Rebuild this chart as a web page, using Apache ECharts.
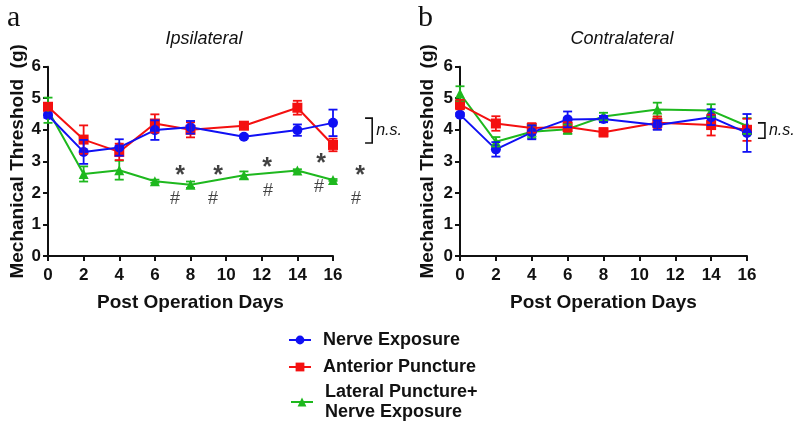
<!DOCTYPE html>
<html><head><meta charset="utf-8">
<script src="https://cdn.jsdelivr.net/npm/echarts@6/dist/echarts.min.js"></script>
<style>html,body{margin:0;padding:0;background:#fff}#c{width:800px;height:423px}</style>
</head><body><div id="c"></div>
<script>
const days = [0, 2, 4, 6, 8, 11, 14, 16];
const yTicks = [0, 1, 2, 3, 4, 5, 6];
const xTicks = [0, 2, 4, 6, 8, 10, 12, 14, 16];
const seriesNames = ['Nerve Exposure', 'Anterior Puncture', 'Lateral Puncture+\nNerve Exposure'];

// Ipsilateral
const ipsiNE = [4.46, 3.30, 3.44, 3.99, 4.08, 3.78, 3.99, 4.22];
const ipsiNEerr = [0.08, 0.38, 0.26, 0.31, 0.20, 0.05, 0.18, 0.42];
const ipsiAP = [4.73, 3.69, 3.30, 4.20, 4.00, 4.13, 4.70, 3.52];
const ipsiAPerr = [0.12, 0.45, 0.26, 0.29, 0.24, 0.10, 0.22, 0.20];
const ipsiLP = [4.62, 2.60, 2.72, 2.37, 2.26, 2.56, 2.71, 2.41];
const ipsiLPerr = [0.40, 0.24, 0.30, 0.05, 0.10, 0.12, 0.04, 0.03];
// Contralateral
const contraNE = [4.48, 3.38, 3.92, 4.33, 4.34, 4.15, 4.40, 3.90];
const contraNEerr = [0.05, 0.23, 0.22, 0.25, 0.10, 0.15, 0.25, 0.60];
const contraAP = [4.80, 4.20, 4.06, 4.09, 3.92, 4.22, 4.15, 4.00];
const contraAPerr = [0.15, 0.23, 0.15, 0.15, 0.13, 0.20, 0.33, 0.35];
const contraLP = [5.15, 3.62, 3.94, 4.02, 4.42, 4.64, 4.61, 4.12];
const contraLPerr = [0.23, 0.15, 0.20, 0.15, 0.12, 0.22, 0.20, 0.25];

// significance annotations (data coords, left panel)
const starPos = [[7.41, 2.72], [9.55, 2.72], [12.30, 2.98], [15.33, 3.10], [17.52, 2.72]];
const hashPos = [[7.13, 1.80], [9.26, 1.80], [12.35, 2.06], [15.22, 2.19], [17.29, 1.80]];
// n.s. brackets [xLeft, xRight, yTop, yBottom]
const nsLeft = [17.80, 18.20, 4.37, 3.58];
const nsRight = [16.61, 17.00, 4.22, 3.73];

const COL = {NE: '#1010f4', AP: '#f41010', LP: '#1eb81e'};
const FONT = '"Liberation Sans", Arial, sans-serif';

const chart = echarts.init(document.getElementById('c'), null, {renderer: 'canvas'});

function zip(xs, ys) { return xs.map((x, i) => [x, ys[i]]); }
function zip3(xs, ys, es) { return xs.map((x, i) => [x, ys[i], es[i]]); }

function lineSeries(name, data, color, symbol, size, idx) {
  return {
    type: 'line', name: name, xAxisIndex: idx, yAxisIndex: idx,
    data: data, symbol: symbol, symbolSize: size,
    lineStyle: {color: color, width: 2}, itemStyle: {color: color},
    z: 3, animation: false
  };
}
function errSeries(data, color, idx) {
  return {
    type: 'custom', name: 'err', xAxisIndex: idx, yAxisIndex: idx, data: data, z: 4,
    animation: false,
    renderItem: function (params, api) {
      const x = api.value(0), y = api.value(1), e = api.value(2);
      const t = api.coord([x, y + e]), b = api.coord([x, y - e]);
      const hw = 4.5;
      const st = {stroke: color, lineWidth: 1.8};
      return {type: 'group', children: [
        {type: 'line', shape: {x1: t[0], y1: t[1], x2: b[0], y2: b[1]}, style: st},
        {type: 'line', shape: {x1: t[0] - hw, y1: t[1], x2: t[0] + hw, y2: t[1]}, style: st},
        {type: 'line', shape: {x1: b[0] - hw, y1: b[1], x2: b[0] + hw, y2: b[1]}, style: st}
      ]};
    }
  };
}
function markSeries(pos, txt, size, weight, offY, idx) {
  return {
    type: 'scatter', name: 'mark', xAxisIndex: idx, yAxisIndex: idx, data: pos,
    symbolSize: 0, clip: false, silent: true, animation: false,
    label: {show: true, position: 'inside', formatter: txt, color: '#111', offset: [0, offY],
      fontFamily: FONT, fontSize: size, fontWeight: weight}
  };
}
function bracketSeries(b, idx) {
  return {
    type: 'custom', name: 'ns', xAxisIndex: idx, yAxisIndex: idx, data: [b], clip: false,
    silent: true, animation: false,
    renderItem: function (params, api) {
      const p1 = api.coord([api.value(0), api.value(2)]);
      const p2 = api.coord([api.value(1), api.value(3)]);
      return {type: 'group', children: [
        {type: 'polyline', shape: {points: [[p1[0], p1[1]], [p2[0], p1[1]], [p2[0], p2[1]], [p1[0], p2[1]]]},
          style: {stroke: '#111', lineWidth: 1.6, fill: null}},
        {type: 'text', style: {text: 'n.s.', x: p2[0] + 4, y: (p1[1] + p2[1]) / 2,
          verticalAlign: 'middle', align: 'left', fill: '#111',
          font: 'italic 16px ' + FONT}}
      ]};
    }
  };
}

function xAxisDef(idx) {
  return {
    type: 'value', gridIndex: idx, min: 0, max: 16, interval: 2,
    name: 'Post Operation Days', nameLocation: 'middle', nameGap: 37,
    nameTextStyle: {fontFamily: FONT, fontWeight: 'bold', fontSize: 19, color: '#111'},
    axisLine: {lineStyle: {color: '#111', width: 2}},
    axisTick: {show: true, length: 5, lineStyle: {color: '#111', width: 2}},
    axisLabel: {fontFamily: FONT, fontWeight: 'bold', fontSize: 17, color: '#111', margin: 11,
      formatter: v => xTicks.indexOf(v) >= 0 ? String(v) : ''},
    splitLine: {show: false}
  };
}
function yAxisDef(idx, gap) {
  return {
    type: 'value', gridIndex: idx, min: 0, max: 6, interval: 1,
    name: 'Mechanical Threshold  (g)', nameLocation: 'middle', nameGap: gap,
    nameTextStyle: {fontFamily: FONT, fontWeight: 'bold', fontSize: 19, color: '#111'},
    axisLine: {show: true, lineStyle: {color: '#111', width: 2}},
    axisTick: {show: true, length: 5, lineStyle: {color: '#111', width: 2}},
    axisLabel: {fontFamily: FONT, fontWeight: 'bold', fontSize: 17, color: '#111', margin: 7,
      formatter: v => yTicks.indexOf(v) >= 0 ? String(v) : ''},
    splitLine: {show: false}
  };
}

const legendText = {fontFamily: FONT, fontWeight: 'bold', fontSize: 18, color: '#111', lineHeight: 20, padding: [0, 0, 0, 7]};

const option = {
  backgroundColor: '#fff',
  animation: false,
  title: [
    {text: 'a', left: 2, top: -2, textStyle: {fontFamily: '"Liberation Serif", "Times New Roman", serif', fontWeight: 'normal', fontSize: 30, color: '#111'}},
    {text: 'b', left: 413, top: -2, textStyle: {fontFamily: '"Liberation Serif", "Times New Roman", serif', fontWeight: 'normal', fontSize: 30, color: '#111'}},
    {text: 'Ipsilateral', left: 199, top: 25, textAlign: 'center', textStyle: {fontFamily: FONT, fontStyle: 'italic', fontWeight: 'normal', fontSize: 18, color: '#111'}},
    {text: 'Contralateral', left: 617, top: 25, textAlign: 'center', textStyle: {fontFamily: FONT, fontStyle: 'italic', fontWeight: 'normal', fontSize: 18, color: '#111'}}
  ],
  grid: [
    {left: 48, top: 66.7, width: 285, height: 189.3, containLabel: false},
    {left: 460, top: 66.7, width: 287, height: 189.3, containLabel: false}
  ],
  legend: [
    {orient: 'vertical', left: 288, top: 330, padding: 0, itemWidth: 22, itemHeight: 11, itemGap: 7,
      data: seriesNames.slice(0, 2), textStyle: legendText},
    {orient: 'vertical', left: 290, top: 382, padding: 0, itemWidth: 22, itemHeight: 11, itemGap: 7,
      data: seriesNames.slice(2), textStyle: legendText}
  ],
  xAxis: [xAxisDef(0), xAxisDef(1)],
  yAxis: [yAxisDef(0, 19), yAxisDef(1, 23)],
  series: [
    lineSeries(seriesNames[2], zip(days, ipsiLP), COL.LP, 'triangle', 10, 0),
    lineSeries(seriesNames[1], zip(days, ipsiAP), COL.AP, 'rect', 10, 0),
    lineSeries(seriesNames[0], zip(days, ipsiNE), COL.NE, 'circle', 10, 0),
    errSeries(zip3(days, ipsiLP, ipsiLPerr), COL.LP, 0),
    errSeries(zip3(days, ipsiAP, ipsiAPerr), COL.AP, 0),
    errSeries(zip3(days, ipsiNE, ipsiNEerr), COL.NE, 0),
    lineSeries(seriesNames[2], zip(days, contraLP), COL.LP, 'triangle', 10, 1),
    lineSeries(seriesNames[1], zip(days, contraAP), COL.AP, 'rect', 10, 1),
    lineSeries(seriesNames[0], zip(days, contraNE), COL.NE, 'circle', 10, 1),
    errSeries(zip3(days, contraLP, contraLPerr), COL.LP, 1),
    errSeries(zip3(days, contraAP, contraAPerr), COL.AP, 1),
    errSeries(zip3(days, contraNE, contraNEerr), COL.NE, 1),
    markSeries(starPos, '*', 25, 'bold', 6, 0),
    markSeries(hashPos, '#', 18, 'normal', 0, 0),
    bracketSeries(nsLeft, 0),
    bracketSeries(nsRight, 1)
  ]
};
chart.setOption(option);
</script>
</body></html>
